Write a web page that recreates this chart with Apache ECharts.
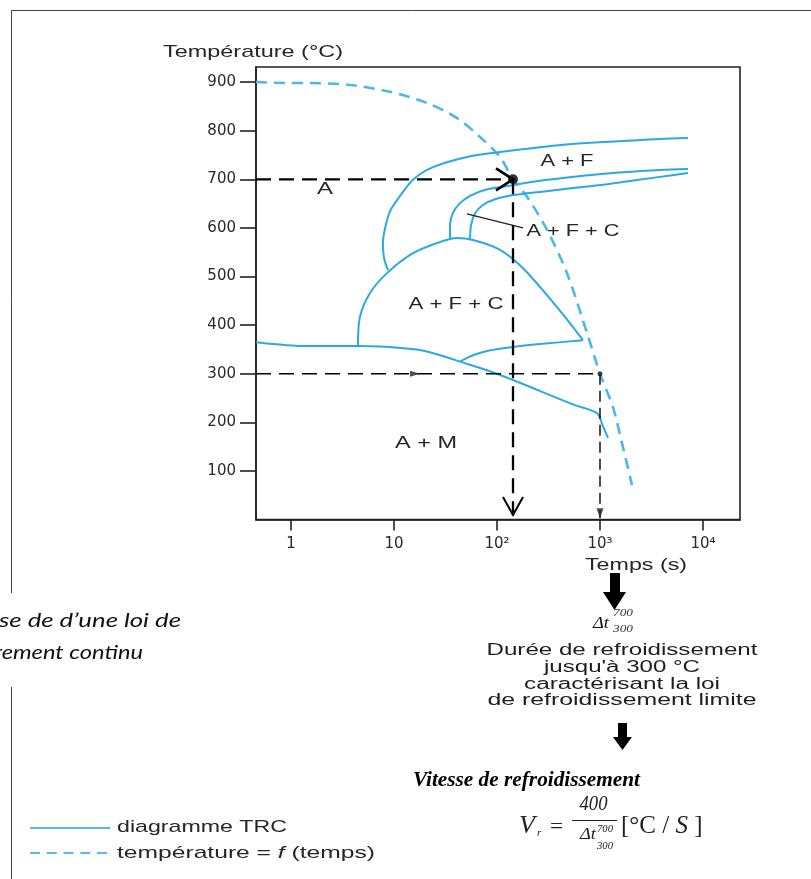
<!DOCTYPE html>
<html>
<head>
<meta charset="utf-8">
<title>Diagramme TRC</title>
<script src="https://cdn.jsdelivr.net/npm/echarts@6/dist/echarts.min.js"></script>
<style>
  html, body { margin: 0; padding: 0; background: #fff; }
  #chart { width: 811px; height: 879px; }
</style>
</head>
<body>
<div id="chart"></div>
<script>
// ---- axes ----
const xTickValues = [1, 10, 100, 1000, 10000];
const xTickLabels = ['1', '10', '10²', '10³', '10⁴'];
const yTickValues = [100, 200, 300, 400, 500, 600, 700, 800, 900];

// ---- curves: [time (s), temperature (°C)] ----
// cooling law T = f(t)
const coolingCurve = [[0.4572, 900], [0.94, 898], [1.43, 898], [3.74, 894], [9.1, 880], [20.9, 857],
  [40.9, 826], [68.4, 787], [107, 746], [143, 700], [196, 664], [306, 596], [478, 507],
  [748, 384], [1000, 300], [1337, 231], [1671, 149], [2045, 71]];
// ferrite start
const ferriteStart = [[8.75, 513], [8.0, 538], [7.8, 569], [8.2, 600], [9.1, 633], [10.7, 657],
  [15.3, 699], [23.9, 725], [51.2, 746], [107, 756], [261, 766], [800, 775], [3830, 783], [7150, 785]];
// pearlite start / end
const pearliteStart = [[35, 577], [35, 606], [37.3, 631], [43.7, 651], [54.7, 666], [76, 678],
  [125, 686], [261, 697], [547, 705], [1170, 712], [3830, 719], [7150, 721]];
const pearliteEnd = [[54.7, 577], [56, 606], [61, 629], [73, 647], [95.6, 659], [150, 668],
  [261, 674], [547, 682], [1170, 690], [3830, 705], [7150, 713]];
// bainite domain
const bainiteNose = [[4.47, 359], [4.67, 417], [5.85, 466], [8.55, 507], [15.3, 548], [28, 571],
  [40.9, 579], [58.5, 575], [107, 555], [179, 517], [383, 437], [684, 369]];
const bainiteEnd = [[684, 369], [261, 361], [143, 355], [80, 347], [58.5, 338], [43.7, 325]];
// martensite start
const msLine = [[0.4572, 365], [1.43, 357], [4.4, 357], [16.7, 350], [26, 340], [43.7, 325],
  [100, 300], [547, 237], [935, 219], [1060, 194], [1196, 168]];

// ---- guides ----
const guide700 = [[0.4572, 700], [143, 700]];
const drop700 = [[143, 700], [143, 9.5]];
const guide300 = [[0.4572, 300], [1000, 300]];
const drop300 = [[1000, 300], [1000, 3]];
const pointerAFC = [[51, 629], [179, 600]];
const point700 = [[143, 700]];
const point300 = [[1000, 300]];
const arrowOn300 = [[16, 300]];

const BLUE = '#2aa9e3';
const DASH_BLUE = '#4db7ea';
const INK = '#262626';
const SANS = '"Liberation Sans", Arial, sans-serif';
const SERIF = '"Liberation Serif", "Times New Roman", serif';

const chart = echarts.init(document.getElementById('chart'), null, { renderer: 'canvas' });

function trc(data) {
  return {
    type: 'line', name: 'diagramme TRC', data, symbol: 'none', smooth: 0.3, silent: true, z: 3,
    lineStyle: { color: BLUE, width: 2 }
  };
}
function guide(data, width, dash) {
  return {
    type: 'line', data, symbol: 'none', silent: true, z: 5,
    lineStyle: { color: '#000', width, type: dash }
  };
}
function marker(data, symbol, size, offset, style) {
  return {
    type: 'scatter', data, symbol, symbolSize: size, symbolOffset: offset, silent: true, z: 6,
    itemStyle: style
  };
}

// text helper: width-fitted horizontal scale
const meas = document.createElement('canvas').getContext('2d');
function txt(text, x, y, size, family, width, o = {}) {
  const style = o.fontStyle || 'normal';
  const weight = o.fontWeight || 'normal';
  meas.font = `${style} ${weight} ${size}px ${family}`;
  const sx = width ? width / meas.measureText(o.plain || text).width : 1;
  const st = {
    text, fontSize: size, fontFamily: family, fontStyle: style, fontWeight: weight,
    fill: o.fill || INK, align: o.align || 'center', verticalAlign: 'middle'
  };
  if (o.rich) st.rich = o.rich;
  return { type: 'text', x, y, scaleX: sx, silent: true, z: 10, style: st };
}
function line(x1, y1, x2, y2, o = {}) {
  return {
    type: 'line', silent: true, z: 10,
    shape: { x1, y1, x2, y2 },
    style: { stroke: o.stroke || '#333', lineWidth: o.width || 1, lineDash: o.dash || null }
  };
}
function poly(points, fill) {
  return { type: 'polygon', silent: true, z: 10, shape: { points }, style: { fill } };
}
function chevron(points, width) {
  return {
    type: 'polyline', silent: true, z: 20, shape: { points },
    style: { stroke: '#000', lineWidth: width, fill: null, lineJoin: 'miter' }
  };
}

const graphics = [
  // page frame
  line(11.5, 10.5, 811, 10.5, { stroke: '#444' }),
  line(11.5, 10.5, 11.5, 593, { stroke: '#444' }),
  line(11.5, 687, 11.5, 879, { stroke: '#444' }),

  // axis titles
  txt('Température (°C)', 163, 52, 17, SANS, 180, { align: 'left' }),
  txt('Temps (s)', 636, 565, 17, SANS, 102),

  // phase domains
  txt('A', 325, 189, 17, SANS, 16),
  txt('A + F', 567, 161, 17, SANS, 53),
  txt('A + F + C', 573, 231, 17, SANS, 93),
  txt('A + F + C', 456, 304, 17, SANS, 95),
  txt('A + M', 426, 443, 17, SANS, 62),

  // side caption
  txt('se de d’une loi de', -1, 621, 20, '"Lato", "Open Sans", sans-serif', 182, { align: 'left', fontStyle: 'italic', fill: '#111' }),
  txt('rement continu', -6, 653, 20, '"Lato", "Open Sans", sans-serif', 149, { align: 'left', fontStyle: 'italic', fill: '#111' }),

  // cooling-time block
  poly([[610, 573], [620, 573], [620, 592], [626, 592], [614.5, 610], [603, 592], [610, 592]], '#000'),
  txt('Δt', 593, 624, 16, SERIF, 16, { align: 'left', fontStyle: 'italic', fill: '#111' }),
  txt('700', 613, 613.5, 11, SERIF, 20, { align: 'left', fontStyle: 'italic', fill: '#333' }),
  txt('300', 613, 629.5, 11, SERIF, 20, { align: 'left', fontStyle: 'italic', fill: '#333' }),
  txt('Durée de refroidissement', 622, 651, 16, SANS, 271, { fill: '#1e1e1e' }),
  txt('jusqu\'à 300 °C', 622, 668, 16, SANS, 156, { fill: '#1e1e1e' }),
  txt('caractérisant la loi', 622, 684.5, 16, SANS, 196, { fill: '#1e1e1e' }),
  txt('de refroidissement limite', 622, 701, 16, SANS, 269, { fill: '#1e1e1e' }),
  poly([[618, 723], [627, 723], [627, 737], [632, 737], [622.5, 750], [613, 737], [618, 737]], '#000'),

  // cooling rate
  txt('Vitesse de refroidissement', 526.5, 781, 21, SERIF, 227, { fontStyle: 'italic', fontWeight: 'bold', fill: '#000' }),
  txt('V', 519, 826, 25, SERIF, 16, { align: 'left', fontStyle: 'italic', fill: '#222' }),
  txt('r', 537, 833, 11, SERIF, 0, { align: 'left', fontStyle: 'italic', fill: '#222' }),
  txt('=', 556.5, 828, 20, SERIF, 13, { fill: '#222' }),
  txt('400', 593.5, 805, 20, SERIF, 28, { fontStyle: 'italic', fill: '#222' }),
  line(572, 820.5, 617, 820.5, { stroke: '#222', width: 1 }),
  txt('Δt', 580, 835, 17, SERIF, 16, { align: 'left', fontStyle: 'italic', fill: '#222' }),
  txt('700', 597, 829.5, 10, SERIF, 16, { align: 'left', fontStyle: 'italic', fill: '#222' }),
  txt('300', 597, 846, 10, SERIF, 16, { align: 'left', fontStyle: 'italic', fill: '#222' }),
  txt('[°C / {i|S} ]', 621, 826, 25, SERIF, 83, {
    align: 'left', fill: '#222', plain: '[°C / S ]',
    rich: { i: { fontStyle: 'italic', fontSize: 25, fontFamily: SERIF, fill: '#222' } }
  }),

  // key
  line(30, 828, 110, 828, { stroke: '#1aa6e8', width: 1.6 }),
  txt('diagramme TRC', 117, 827, 17, SANS, 170, { align: 'left' }),
  line(30, 853, 107, 853, { stroke: '#1aa6e8', width: 1.6, dash: [10, 6.75] }),
  txt('température = {i|f} (temps)', 117, 853, 17, SANS, 258, {
    align: 'left', plain: 'température = f (temps)',
    rich: { i: { fontStyle: 'italic', fontSize: 17, fontFamily: SANS, fill: INK } }
  })
];

const option = {
  animation: false,
  backgroundColor: '#fff',
  grid: {
    left: 256, right: 71, top: 67, bottom: 359.4,
    show: true, borderColor: '#222', borderWidth: 1.6,
    containLabel: false, outerBoundsMode: 'none'
  },
  xAxis: {
    type: 'log', logBase: 10, min: 0.4572, max: 22870,
    axisLine: { show: true, lineStyle: { color: '#222', width: 1.6 } },
    axisTick: { show: true, length: 11, customValues: xTickValues, lineStyle: { color: '#222', width: 1.6 } },
    axisLabel: {
      customValues: xTickValues, margin: 17, color: '#2a2a2a',
      fontFamily: '"DejaVu Sans", sans-serif', fontSize: 15,
      formatter: v => xTickLabels[xTickValues.findIndex(t => Math.abs(Math.log10(t) - Math.log10(v)) < 1e-6)] ?? ''
    },
    splitLine: { show: false }, minorTick: { show: false }
  },
  yAxis: {
    type: 'value', min: 0, max: 931,
    axisLine: { show: true, lineStyle: { color: '#222', width: 1.6 } },
    axisTick: { show: true, length: 16, customValues: yTickValues, lineStyle: { color: '#222', width: 1.6 } },
    axisLabel: {
      customValues: yTickValues, margin: 20, color: '#2a2a2a',
      fontFamily: '"DejaVu Sans", sans-serif', fontSize: 15
    },
    splitLine: { show: false }
  },
  series: [
    {
      type: 'line', name: 'température = f (temps)', data: coolingCurve, symbol: 'none', smooth: 0.3,
      silent: true, z: 2, lineStyle: { color: DASH_BLUE, width: 2.6, type: [11, 7] }
    },
    trc(ferriteStart),
    trc(pearliteStart),
    trc(pearliteEnd),
    trc(bainiteNose),
    trc(bainiteEnd),
    trc(msLine),
    {
      type: 'line', data: pointerAFC, symbol: 'none', silent: true, z: 4,
      lineStyle: { color: '#222', width: 1.3 }
    },
    guide(guide700, 2.3, [15, 8]),
    guide(drop700, 2.3, [15, 8]),
    guide(guide300, 1.4, [15, 8]),
    guide(drop300, 1.4, [11, 6]),
    marker(point700, 'circle', 10, [0, 0], { color: '#000' }),
    marker([drop300[1]], 'path://M0,0L10,0L5,12', [7, 10], [0, -5], { color: '#222' }),
    marker(point300, 'circle', 5, [0, 0], { color: '#222' }),
    marker(arrowOn300, 'path://M0,0L12,5L0,10', [10, 6], [0, 0], { color: '#222' })
  ],
  graphic: graphics
};

chart.setOption(option);

// open arrowheads on the 700 °C guide and at the foot of its drop line
const tip700 = chart.convertToPixel({ gridIndex: 0 }, point700[0]);
const tipFoot = chart.convertToPixel({ gridIndex: 0 }, drop700[1]);
chart.setOption({
  graphic: graphics.concat([
    chevron([[tip700[0] - 17, tip700[1] - 11], [tip700[0], tip700[1]], [tip700[0] - 17, tip700[1] + 11]], 2.6),
    chevron([[tipFoot[0] - 10, tipFoot[1] - 18], [tipFoot[0], tipFoot[1]], [tipFoot[0] + 10, tipFoot[1] - 18]], 2)
  ])
});
</script>
</body>
</html>
